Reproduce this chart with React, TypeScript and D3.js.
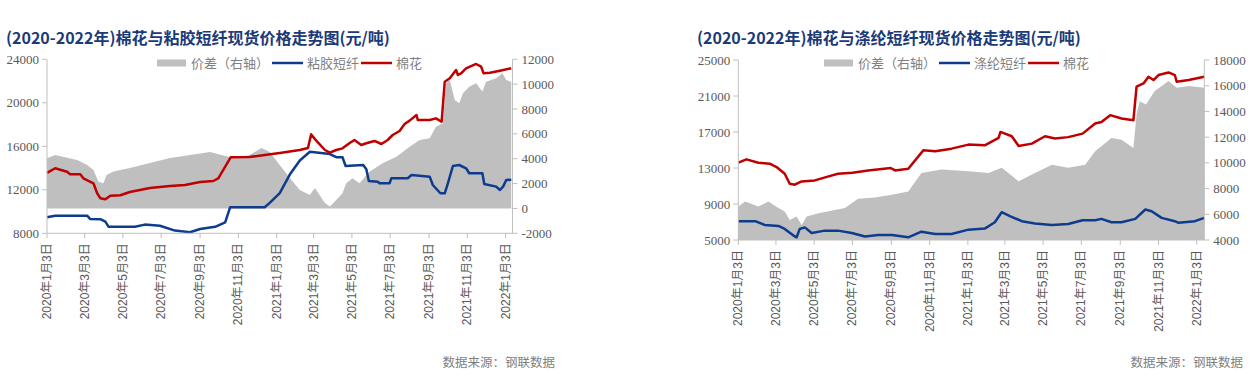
import * as d3 from "d3";

type Pt = [string, number];

const parse = d3.timeParse("%Y-%m-%d");

const xTickDates = [
  "2020-01-03", "2020-03-03", "2020-05-03", "2020-07-03", "2020-09-03", "2020-11-03",
  "2021-01-03", "2021-03-03", "2021-05-03", "2021-07-03", "2021-09-03", "2021-11-03", "2022-01-03",
];
const xTickLabels = [
  "2020年1月3日", "2020年3月3日", "2020年5月3日", "2020年7月3日", "2020年9月3日", "2020年11月3日",
  "2021年1月3日", "2021年3月3日", "2021年5月3日", "2021年7月3日", "2021年9月3日", "2021年11月3日", "2022年1月3日",
];

const viscoseTicksL = [8000, 12000, 16000, 20000, 24000];
const viscoseTicksR = [-2000, 0, 2000, 4000, 6000, 8000, 10000, 12000];
const polyTicksL = [5000, 9000, 13000, 17000, 21000, 25000];
const polyTicksR = [4000, 6000, 8000, 10000, 12000, 14000, 16000, 18000];

// left chart: cotton vs viscose staple
const cottonV: Pt[] = [
  ["2020-01-03", 13550], ["2020-01-16", 13980], ["2020-02-04", 13660], ["2020-02-09", 13420],
  ["2020-02-25", 13440], ["2020-03-01", 13060], ["2020-03-17", 12600], ["2020-03-23", 11680],
  ["2020-03-28", 11220], ["2020-04-05", 11130], ["2020-04-13", 11450], ["2020-04-29", 11500],
  ["2020-05-14", 11800], ["2020-06-15", 12170], ["2020-07-17", 12350], ["2020-08-10", 12440],
  ["2020-09-03", 12720], ["2020-09-24", 12810], ["2020-10-02", 13050], ["2020-10-22", 15000],
  ["2020-11-21", 15020], ["2020-12-15", 15200], ["2021-01-08", 15380], ["2021-02-09", 15660],
  ["2021-02-22", 15840], ["2021-02-27", 17100], ["2021-03-09", 16400], ["2021-03-21", 15660],
  ["2021-03-29", 15410], ["2021-04-08", 15660], ["2021-04-18", 15810], ["2021-04-29", 16280],
  ["2021-05-07", 16580], ["2021-05-18", 16120], ["2021-05-26", 16280], ["2021-06-08", 16490],
  ["2021-06-19", 16210], ["2021-06-29", 16580], ["2021-07-07", 17040], ["2021-07-18", 17410],
  ["2021-07-26", 18050], ["2021-08-03", 18360], ["2021-08-14", 18880], ["2021-08-16", 18420],
  ["2021-09-04", 18420], ["2021-09-14", 18570], ["2021-09-23", 18260], ["2021-09-28", 21940],
  ["2021-10-06", 22250], ["2021-10-10", 22560], ["2021-10-16", 23020], ["2021-10-19", 22560],
  ["2021-10-24", 22710], ["2021-11-01", 23170], ["2021-11-17", 23570], ["2021-11-25", 23320],
  ["2021-11-29", 22710], ["2021-12-09", 22770], ["2021-12-25", 22950], ["2022-01-12", 23170],
];
const viscose: Pt[] = [
  ["2020-01-03", 9470], ["2020-01-16", 9620], ["2020-03-07", 9620], ["2020-03-12", 9310],
  ["2020-03-28", 9300], ["2020-04-05", 9070], ["2020-04-10", 8610], ["2020-05-22", 8610],
  ["2020-06-07", 8800], ["2020-07-01", 8700], ["2020-07-25", 8250], ["2020-08-18", 8100],
  ["2020-09-03", 8400], ["2020-09-27", 8600], ["2020-10-13", 9000], ["2020-10-21", 10400],
  ["2020-12-15", 10400], ["2020-12-23", 10800], ["2021-01-08", 11700], ["2021-01-24", 13400],
  ["2021-02-09", 14700], ["2021-02-25", 15500], ["2021-03-29", 15290], ["2021-04-08", 15000],
  ["2021-04-18", 14990], ["2021-04-23", 14190], ["2021-05-21", 14280], ["2021-05-26", 13890],
  ["2021-05-30", 12810], ["2021-06-13", 12750], ["2021-06-16", 12600], ["2021-07-02", 12600],
  ["2021-07-05", 13060], ["2021-07-31", 13060], ["2021-08-06", 13360], ["2021-09-04", 13210],
  ["2021-09-09", 12440], ["2021-09-21", 11680], ["2021-09-28", 11680], ["2021-10-03", 12600],
  ["2021-10-11", 14190], ["2021-10-21", 14280], ["2021-11-01", 13980], ["2021-11-06", 13520],
  ["2021-11-27", 13520], ["2021-11-30", 12540], ["2021-12-19", 12290], ["2021-12-25", 11980],
  ["2021-12-30", 12290], ["2022-01-04", 12900], ["2022-01-12", 12930],
];
const spreadV: Pt[] = [
  ["2020-01-03", 4035], ["2020-01-16", 4300], ["2020-02-20", 3900], ["2020-03-07", 3500],
  ["2020-03-17", 3100], ["2020-03-25", 2150], ["2020-04-02", 2020], ["2020-04-07", 2690],
  ["2020-04-17", 2960], ["2020-04-29", 3090], ["2020-05-14", 3250], ["2020-06-15", 3660],
  ["2020-07-17", 4060], ["2020-08-18", 4300], ["2020-09-19", 4540], ["2020-10-13", 4220],
  ["2020-10-29", 4060], ["2020-11-21", 4300], ["2020-12-10", 4860], ["2020-12-23", 4540],
  ["2021-01-08", 3500], ["2021-01-24", 2450], ["2021-02-09", 1490], ["2021-02-25", 1090],
  ["2021-03-05", 1650], ["2021-03-21", 440], ["2021-03-29", 150], ["2021-04-08", 680],
  ["2021-04-18", 1220], ["2021-04-24", 2020], ["2021-05-04", 2430], ["2021-05-15", 2020],
  ["2021-05-31", 2960], ["2021-06-21", 3630], ["2021-07-13", 4160], ["2021-08-03", 4970],
  ["2021-08-19", 5510], ["2021-09-04", 5640], ["2021-09-14", 6580], ["2021-09-25", 6850],
  ["2021-09-30", 10070], ["2021-10-06", 10340], ["2021-10-14", 8730], ["2021-10-21", 8460],
  ["2021-10-27", 9260], ["2021-11-06", 9800], ["2021-11-17", 10070], ["2021-11-27", 9400],
  ["2021-12-03", 10200], ["2021-12-19", 10470], ["2021-12-29", 10870], ["2022-01-04", 10340],
  ["2022-01-12", 10200],
];

// right chart: cotton vs polyester staple
const cottonP: Pt[] = [
  ["2020-01-03", 13590], ["2020-01-16", 13960], ["2020-02-04", 13590], ["2020-02-22", 13480],
  ["2020-03-04", 13110], ["2020-03-17", 12360], ["2020-03-25", 11250], ["2020-04-02", 11140],
  ["2020-04-13", 11510], ["2020-05-04", 11620], ["2020-05-26", 12070], ["2020-06-10", 12360],
  ["2020-07-03", 12470], ["2020-07-28", 12730], ["2020-09-02", 13000], ["2020-09-09", 12730],
  ["2020-09-30", 12920], ["2020-10-24", 14960], ["2020-11-12", 14850], ["2020-12-08", 15150],
  ["2021-01-04", 15600], ["2021-01-30", 15520], ["2021-02-21", 16340], ["2021-02-24", 17010],
  ["2021-03-14", 16530], ["2021-03-25", 15450], ["2021-04-15", 15710], ["2021-05-06", 16530],
  ["2021-05-22", 16270], ["2021-06-12", 16430], ["2021-07-05", 16820], ["2021-07-25", 17940],
  ["2021-08-04", 18120], ["2021-08-18", 18870], ["2021-09-05", 18500], ["2021-09-24", 18310],
  ["2021-09-29", 22030], ["2021-10-10", 22400], ["2021-10-18", 23140], ["2021-10-26", 22770],
  ["2021-11-03", 23330], ["2021-11-19", 23620], ["2021-11-29", 23330], ["2021-12-02", 22580],
  ["2021-12-21", 22770], ["2022-01-15", 23140],
];
const polyester: Pt[] = [
  ["2020-01-03", 7090], ["2020-01-30", 7090], ["2020-02-14", 6680], ["2020-03-07", 6560],
  ["2020-03-17", 6230], ["2020-03-31", 5490], ["2020-04-05", 5300], ["2020-04-10", 6230],
  ["2020-04-18", 6400], ["2020-04-29", 5770], ["2020-05-20", 6040], ["2020-06-10", 6040],
  ["2020-07-02", 5770], ["2020-07-23", 5380], ["2020-08-13", 5550], ["2020-09-04", 5550],
  ["2020-09-30", 5300], ["2020-10-21", 5920], ["2020-11-12", 5670], ["2020-12-08", 5670],
  ["2021-01-04", 6150], ["2021-01-30", 6270], ["2021-02-15", 6970], ["2021-02-26", 8090],
  ["2021-03-11", 7660], ["2021-03-30", 7090], ["2021-04-20", 6840], ["2021-05-17", 6660],
  ["2021-06-12", 6770], ["2021-07-05", 7200], ["2021-07-25", 7200], ["2021-08-04", 7350],
  ["2021-08-20", 6970], ["2021-09-05", 6970], ["2021-09-27", 7350], ["2021-10-13", 8390],
  ["2021-10-23", 8200], ["2021-11-08", 7460], ["2021-11-29", 7090], ["2021-12-05", 6910],
  ["2021-12-31", 7090], ["2022-01-15", 7460],
];
const spreadP: Pt[] = [
  ["2020-01-03", 6600], ["2020-01-14", 7000], ["2020-02-04", 6600], ["2020-02-20", 7000],
  ["2020-03-07", 6480], ["2020-03-17", 6220], ["2020-03-25", 5560], ["2020-04-05", 5820],
  ["2020-04-13", 5170], ["2020-04-21", 5820], ["2020-05-10", 6080], ["2020-06-05", 6340],
  ["2020-06-21", 6480], ["2020-07-12", 7200], ["2020-08-08", 7300], ["2020-09-04", 7520],
  ["2020-09-30", 7780], ["2020-10-21", 9210], ["2020-11-22", 9480], ["2021-01-04", 9350],
  ["2021-02-05", 9210], ["2021-02-26", 9610], ["2021-03-25", 8560], ["2021-04-20", 9210],
  ["2021-05-17", 9860], ["2021-06-12", 9610], ["2021-07-09", 9860], ["2021-07-25", 10900],
  ["2021-08-20", 11940], ["2021-09-05", 11800], ["2021-09-24", 11160], ["2021-09-29", 13760],
  ["2021-10-04", 14800], ["2021-10-14", 14540], ["2021-10-28", 15580], ["2021-11-19", 16360],
  ["2021-12-02", 15840], ["2021-12-21", 15970], ["2022-01-15", 15840],
];

const RED = "#c00000";
const BLUE = "#0d3c8e";
const GRAY = "#bfbfbf";
const AXIS = "#bfbfbf";
const TEXT = "#595959";
const CJK = "'Noto Sans CJK SC', sans-serif";

type PanelProps = {
  title: string;
  fibreName: string;
  cotton: Pt[];
  fibre: Pt[];
  spread: Pt[];
  endDate: string;
  left: number;
  right: number;
  top: number;
  bottom: number;
  domainL: [number, number];
  domainR: [number, number];
  ticksL: number[];
  ticksR: number[];
  base: number;
  titleX: number;
  legendX: number;
  sourceX: number;
};

const Panel = (p: PanelProps) => {
  const x = d3
    .scaleTime()
    .domain([parse("2020-01-03")!, parse(p.endDate)!])
    .range([p.left, p.right]);
  const yL = d3.scaleLinear().domain(p.domainL).range([p.bottom, p.top]);
  const yR = d3.scaleLinear().domain(p.domainR).range([p.bottom, p.top]);

  const area = d3
    .area<Pt>()
    .x((d) => x(parse(d[0])!))
    .y0(yR(p.base))
    .y1((d) => yR(d[1]));
  const line = d3
    .line<Pt>()
    .x((d) => x(parse(d[0])!))
    .y((d) => yL(d[1]));

  const ly = 63;

  return (
    <g>
      <text x={p.titleX} y={44} fontFamily={CJK} fontWeight="bold" fontSize={16} fill="#1b3a78">
        {p.title}
      </text>

      <path d={area(p.spread) ?? ""} fill={GRAY} />
      <path d={line(p.fibre) ?? ""} fill="none" stroke={BLUE} strokeWidth={2.5} strokeLinejoin="round" />
      <path d={line(p.cotton) ?? ""} fill="none" stroke={RED} strokeWidth={2.5} strokeLinejoin="round" />

      {/* left axis */}
      <line x1={p.left} x2={p.left} y1={p.top} y2={p.bottom} stroke={AXIS} />
      {p.ticksL.map((t) => (
        <g key={"l" + t}>
          <line x1={p.left - 5} x2={p.left} y1={yL(t)} y2={yL(t)} stroke={AXIS} />
          <text x={p.left - 8} y={yL(t)} dy="0.35em" textAnchor="end" fontFamily="'Liberation Serif', serif" fontSize={13} fill={TEXT}>
            {t}
          </text>
        </g>
      ))}

      {/* right axis */}
      <line x1={p.right} x2={p.right} y1={p.top} y2={p.bottom} stroke={AXIS} />
      {p.ticksR.map((t) => (
        <g key={"r" + t}>
          <line x1={p.right} x2={p.right + 5} y1={yR(t)} y2={yR(t)} stroke={AXIS} />
          <text x={p.right + 9} y={yR(t)} dy="0.35em" fontFamily="'Liberation Serif', serif" fontSize={13} fill={TEXT}>
            {t}
          </text>
        </g>
      ))}

      {/* x axis */}
      <line x1={p.left} x2={p.right} y1={p.bottom} y2={p.bottom} stroke={AXIS} />
      {xTickDates.map((d, i) => {
        const tx = x(parse(d)!);
        return (
          <g key={d}>
            <line x1={tx} x2={tx} y1={p.bottom} y2={p.bottom + 5} stroke={AXIS} />
            <text
              transform={`translate(${tx + 4},${p.bottom + 10}) rotate(-90)`}
              textAnchor="end"
              fontFamily={`'Liberation Sans', ${CJK}`}
              fontSize={12}
              fill={TEXT}
            >
              {xTickLabels[i]}
            </text>
          </g>
        );
      })}

      {/* legend */}
      <rect x={p.legendX} y={ly - 3.5} width={29} height={7} fill={GRAY} />
      <text x={p.legendX + 34} y={ly} dy="0.36em" fontFamily={CJK} fontSize={13} fill="#7f7f7f">
        价差（右轴）
      </text>
      <line x1={p.legendX + 115} x2={p.legendX + 146} y1={ly} y2={ly} stroke={BLUE} strokeWidth={2.5} />
      <text x={p.legendX + 150} y={ly} dy="0.36em" fontFamily={CJK} fontSize={13} fill="#7f7f7f">
        {p.fibreName}
      </text>
      <line x1={p.legendX + 204} x2={p.legendX + 235} y1={ly} y2={ly} stroke={RED} strokeWidth={2.5} />
      <text x={p.legendX + 239} y={ly} dy="0.36em" fontFamily={CJK} fontSize={13} fill="#7f7f7f">
        棉花
      </text>

      <text x={p.sourceX} y={367} textAnchor="end" fontFamily={CJK} fontSize={12.5} fill="#7f7f7f">
        数据来源：钢联数据
      </text>
    </g>
  );
};

export default function App() {
  return (
    <svg
      width={1258}
      height={386}
      viewBox="0 0 1258 386"
      style={{ position: "absolute", left: 0, top: 0, background: "#fff" }}
    >
      <Panel
        title="(2020-2022年)棉花与粘胶短纤现货价格走势图(元/吨)"
        fibreName="粘胶短纤"
        cotton={cottonV}
        fibre={viscose}
        spread={spreadV}
        endDate="2022-01-14"
        left={47}
        right={512.5}
        top={59.3}
        bottom={233.3}
        domainL={[8000, 24000]}
        domainR={[-2000, 12000]}
        ticksL={viscoseTicksL}
        ticksR={viscoseTicksR}
        base={0}
        titleX={6}
        legendX={157}
        sourceX={555}
      />
      <Panel
        title="(2020-2022年)棉花与涤纶短纤现货价格走势图(元/吨)"
        fibreName="涤纶短纤"
        cotton={cottonP}
        fibre={polyester}
        spread={spreadP}
        endDate="2022-01-15"
        left={738.3}
        right={1204.3}
        top={60}
        bottom={240}
        domainL={[5000, 25000]}
        domainR={[4000, 18000]}
        ticksL={polyTicksL}
        ticksR={polyTicksR}
        base={4000}
        titleX={697}
        legendX={824}
        sourceX={1243}
      />
    </svg>
  );
}
